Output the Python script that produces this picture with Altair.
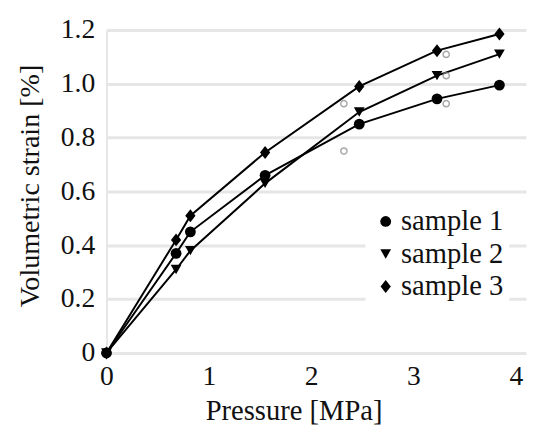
import altair as alt
import pandas as pd

# Data
samples = ["sample 1", "sample 2", "sample 3"]
pressure = [0.0, 0.68, 0.82, 1.55, 2.47, 3.23, 3.84]
strain_1 = [0.0, 0.37, 0.45, 0.66, 0.85, 0.944, 0.995]
strain_2 = [0.0, 0.31, 0.38, 0.63, 0.895, 1.03, 1.11]
strain_3 = [0.0, 0.42, 0.51, 0.745, 0.99, 1.123, 1.185]

open_x = [2.32, 2.32, 3.32, 3.32, 3.32]
open_y = [0.926, 0.75, 1.109, 1.03, 0.926]

rows = []
for name, ys in zip(samples, [strain_1, strain_2, strain_3]):
    for i, (x, y) in enumerate(zip(pressure, ys)):
        rows.append({"sample": name, "x": x, "y": y, "order": i})
df = pd.DataFrame(rows)
df_open = pd.DataFrame({"x": open_x, "y": open_y})

FONT = "Times New Roman, Liberation Serif, serif"
diamond = "M0,-1.2L0.95,0L0,1.2L-0.95,0Z"

xenc = alt.X("x:Q", scale=alt.Scale(domain=[0, 4.1], nice=False),
             axis=alt.Axis(values=[0, 1, 2, 3, 4], format="d", title="Pressure [MPa]",
                           grid=False, domain=False, ticks=False, labelPadding=32,
                           labelFlush=False, labelBaseline="alphabetic", labelFontSize=28,
                           labelFont=FONT, titleFont=FONT,
                           titleFontSize=29, titleX=190, titleY=68,
                           titleBaseline="alphabetic", titleFontWeight="normal"))
yenc = alt.Y("y:Q", scale=alt.Scale(domain=[0, 1.2], nice=False),
             axis=alt.Axis(values=[0, 0.2, 0.4, 0.6, 0.8, 1.0, 1.2],
                           labelExpr="datum.value == 0 ? '0' : format(datum.value, '.1f')",
                           title="Volumetric strain [%]", grid=True, gridColor="#e6e6e6",
                           gridWidth=3, domain=True, domainColor="#e6e6e6", domainWidth=2,
                           ticks=False, labelPadding=12, labelFontSize=28, labelFlush=False,
                           labelFont=FONT, titleFont=FONT,
                           titleFontSize=28.5, titleAngle=270, titleX=-69, titleY=158,
                           titleBaseline="alphabetic", titleAlign="center",
                           titleFontWeight="normal"))

lines = alt.Chart(df).mark_line(color="black", strokeWidth=2).encode(
    x=xenc, y=yenc, detail="sample:N", order="order:Q")

opens = alt.Chart(df_open).mark_point(shape="circle", filled=False, color="#858585",
                                      size=40, strokeWidth=1.5).encode(x="x:Q", y="y:Q")

points = alt.Chart(df).mark_point(filled=True, color="black", opacity=1, size=120).encode(
    x="x:Q", y="y:Q",
    shape=alt.Shape("sample:N", scale=alt.Scale(domain=samples,
                    range=["circle", "triangle-down", diamond]),
                    legend=alt.Legend(title=None, orient="none", legendX=263, legendY=174,
                                      fillColor="white", padding=6, labelFontSize=29,
                                      labelFont=FONT, labelColor="#111", symbolSize=120,
                                      symbolFillColor="black", symbolStrokeColor="black",
                                      symbolOpacity=1, rowPadding=3, labelOffset=1,
                                      symbolStrokeWidth=0)))

chart = alt.layer(lines, opens, points).properties(
    width=426, height=328,
    autosize=alt.AutoSizeParams(type="none"),
    padding={"left": 100, "top": 19, "right": 2, "bottom": 77},
).configure(font=FONT).configure_view(stroke=None).configure_axis(
    labelFont=FONT, titleFont=FONT, labelColor="#111", titleColor="#111"
).configure_legend(labelFont=FONT)

chart.save("out.html", embed_options={"renderer": "svg", "actions": False})
